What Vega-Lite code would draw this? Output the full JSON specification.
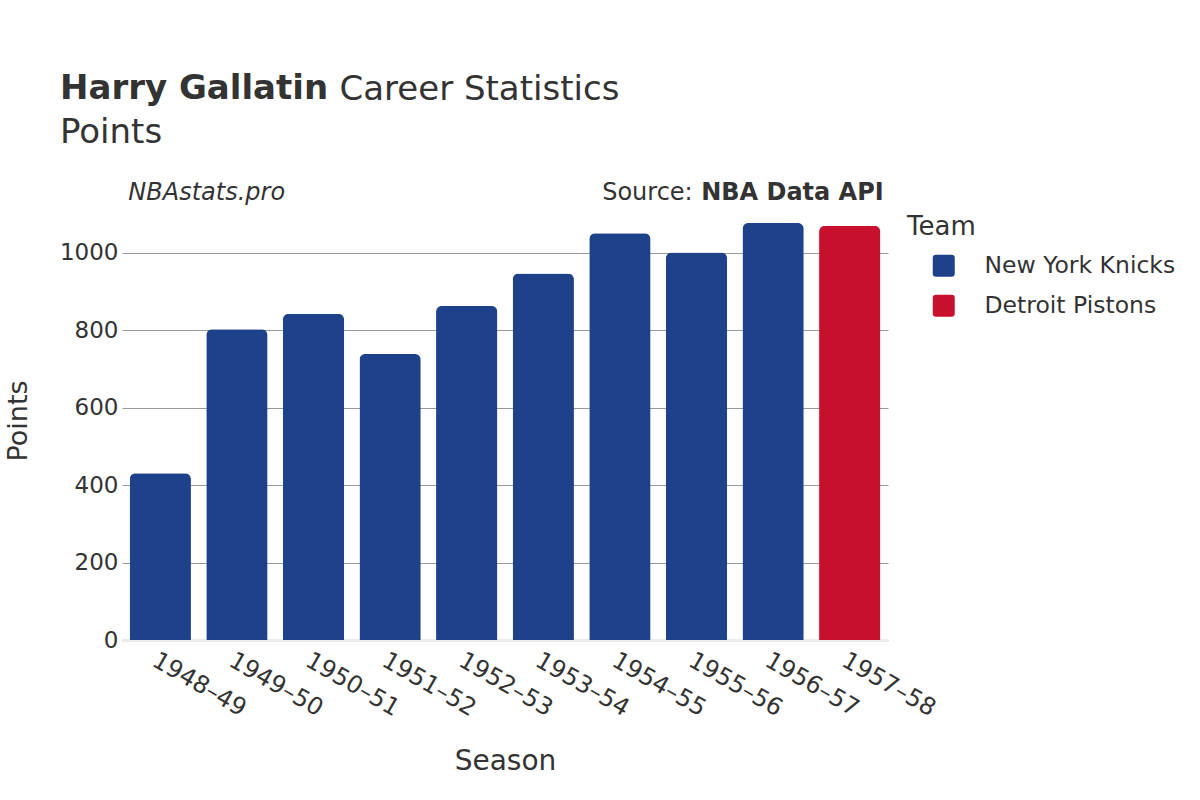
{
  "$schema": "https://vega.github.io/schema/vega-lite/v6.json",
  "width": 766,
  "height": 439,
  "autosize": {"type": "none"},
  "padding": {"left": 122, "top": 201, "right": 312, "bottom": 160},
  "background": "white",
  "title": {
    "text": "Harry Gallatin",
    "subtitle": "Points",
    "anchor": "start",
    "frame": "group",
    "dx": -62,
    "offset": -77,
    "font": "DejaVu Sans",
    "fontSize": 34,
    "fontWeight": "bold",
    "color": "#333333",
    "subtitleFont": "DejaVu Sans",
    "subtitleFontSize": 34,
    "subtitleColor": "#333333",
    "subtitlePadding": 10
  },
  "config": {"view": {"stroke": null}, "font": "DejaVu Sans"},
  "layer": [
    {
      "data": {
        "values": [
          {"Season": "1948–49", "Points": 431, "Team": "New York Knicks"},
          {"Season": "1949–50", "Points": 803, "Team": "New York Knicks"},
          {"Season": "1950–51", "Points": 843, "Team": "New York Knicks"},
          {"Season": "1951–52", "Points": 739, "Team": "New York Knicks"},
          {"Season": "1952–53", "Points": 863, "Team": "New York Knicks"},
          {"Season": "1953–54", "Points": 947, "Team": "New York Knicks"},
          {"Season": "1954–55", "Points": 1051, "Team": "New York Knicks"},
          {"Season": "1955–56", "Points": 1001, "Team": "New York Knicks"},
          {"Season": "1956–57", "Points": 1077, "Team": "New York Knicks"},
          {"Season": "1957–58", "Points": 1070, "Team": "Detroit Pistons"}
        ]
      },
      "mark": {"type": "bar", "cornerRadiusTopLeft": 6, "cornerRadiusTopRight": 6},
      "encoding": {
        "x": {
          "field": "Season",
          "type": "nominal",
          "sort": null,
          "scale": {"paddingInner": 0.2, "paddingOuter": 0.1},
          "axis": {
            "title": "Season",
            "titleFontSize": 28,
            "titleFontWeight": "normal",
            "titleColor": "#333333",
            "titlePadding": 27,
            "labelFontSize": 24,
            "labelColor": "#333333",
            "labelAngle": 30,
            "labelPadding": 8,
            "ticks": false,
            "domainColor": "#ebebeb",
            "domainWidth": 3
          }
        },
        "y": {
          "field": "Points",
          "type": "quantitative",
          "scale": {"domain": [0, 1134], "nice": false},
          "axis": {
            "values": [0, 200, 400, 600, 800, 1000],
            "format": "d",
            "title": "Points",
            "titleFontSize": 27,
            "titleFontWeight": "normal",
            "titleColor": "#333333",
            "titlePadding": 27,
            "labelFontSize": 23,
            "labelColor": "#333333",
            "labelPadding": 4,
            "ticks": false,
            "domain": false,
            "grid": true,
            "gridColor": "#999999",
            "gridWidth": 1
          }
        },
        "color": {
          "field": "Team",
          "type": "nominal",
          "scale": {"domain": ["New York Knicks", "Detroit Pistons"], "range": ["#1D428A", "#C8102E"]},
          "legend": {
            "title": "Team",
            "orient": "right",
            "offset": 6,
            "padding": 13,
            "titleFontSize": 26,
            "titleFontWeight": "normal",
            "titleColor": "#333333",
            "titlePadding": 14,
            "labelFontSize": 23.5,
            "labelColor": "#333333",
            "labelLimit": 400,
            "symbolType": "M -0.7 -1 H 0.7 Q 1 -1 1 -0.7 V 0.7 Q 1 1 0.7 1 H -0.7 Q -1 1 -1 0.7 V -0.7 Q -1 -1 -0.7 -1 Z",
            "symbolSize": 484,
            "symbolOffset": 25,
            "symbolStrokeWidth": 0,
            "symbolOpacity": 1,
            "labelOffset": 29,
            "rowPadding": 15
          }
        }
      }
    },
    {
      "data": {"values": [{"label": "Career Statistics"}]},
      "mark": {"type": "text", "align": "left", "baseline": "alphabetic", "dx": 26, "fontSize": 34, "color": "#333333", "font": "DejaVu Sans"},
      "encoding": {
        "x": {"datum": "1950–51", "type": "nominal"},
        "y": {"datum": 1394, "type": "quantitative"},
        "text": {"field": "label"}
      }
    },
    {
      "data": {"values": [{"label": "NBAstats.pro"}]},
      "mark": {"type": "text", "align": "left", "baseline": "middle", "dx": -32, "fontSize": 24, "fontStyle": "italic", "color": "#333333", "font": "DejaVu Sans"},
      "encoding": {
        "x": {"datum": "1948–49", "type": "nominal"},
        "y": {"datum": 1155, "type": "quantitative"},
        "text": {"field": "label"}
      }
    },
    {
      "data": {"values": [{"label": "NBA Data API"}]},
      "mark": {"type": "text", "align": "right", "baseline": "middle", "dx": 34, "fontSize": 24, "fontWeight": "bold", "color": "#333333", "font": "DejaVu Sans"},
      "encoding": {
        "x": {"datum": "1957–58", "type": "nominal"},
        "y": {"datum": 1155, "type": "quantitative"},
        "text": {"field": "label"}
      }
    },
    {
      "data": {"values": [{"label": "Source:"}]},
      "mark": {"type": "text", "align": "right", "baseline": "middle", "dx": -157, "fontSize": 24, "color": "#333333", "font": "DejaVu Sans"},
      "encoding": {
        "x": {"datum": "1957–58", "type": "nominal"},
        "y": {"datum": 1155, "type": "quantitative"},
        "text": {"field": "label"}
      }
    }
  ]
}
